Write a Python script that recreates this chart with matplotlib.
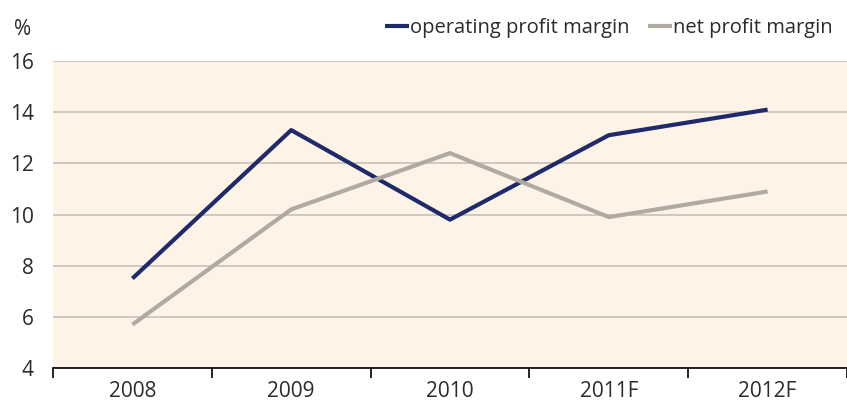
import matplotlib.pyplot as plt
import numpy as np

plt.rcParams['font.family'] = ['Open Sans', 'DejaVu Sans']

years = ["2008", "2009", "2010", "2011F", "2012F"]
operating_margin = [7.5, 13.3, 9.8, 13.1, 14.1]
net_margin = [5.7, 10.2, 12.4, 9.9, 10.9]

navy = "#1e2a6a"
grey = "#b1aaa3"
txt = "#2b2b2b"

fig = plt.figure(figsize=(8.47, 4.03), dpi=100)
ax = fig.add_axes([0.0626, 0.0868, 0.9374, 0.7618])
ax.set_facecolor("#fdf4e7")

x = np.arange(len(years))
ax.plot(x, operating_margin, color=navy, lw=3, label="operating profit margin", solid_capstyle="butt")
ax.plot(x, net_margin, color=grey, lw=3, label="net profit margin", solid_capstyle="butt")

ax.set_ylim(4, 16)
ax.set_yticks(range(4, 17, 2))
ax.set_xlim(-0.5, 4.46)
ax.set_xticks(x)
ax.set_xticklabels(years)
ax.set_xticks(np.arange(-0.5, 4.6, 1), minor=True)
ax.tick_params(axis="x", which="major", length=0, pad=9, labelsize=15, colors=txt)
ax.tick_params(axis="x", which="minor", length=7, width=1.2, direction="out", color="black")
ax.tick_params(axis="y", length=0, pad=14, labelsize=15, colors=txt)
ax.yaxis.grid(True, color="#c9c0b7", lw=1.2)
ax.set_axisbelow(True)
for s in ["top", "right", "left"]:
    ax.spines[s].set_visible(False)
ax.spines["bottom"].set_linewidth(1.2)
ax.spines["bottom"].set_color("black")

fig.text(0.016, 0.928, "%", fontsize=15, color=txt, va="center")
fig.legend(loc="upper right", bbox_to_anchor=(0.997, 0.985), ncol=2, frameon=False,
           fontsize=14.5, handlelength=1.2, handletextpad=0.05, columnspacing=0.9,
           labelcolor=txt, borderaxespad=0.2)

fig.savefig("out.png", dpi=100)
